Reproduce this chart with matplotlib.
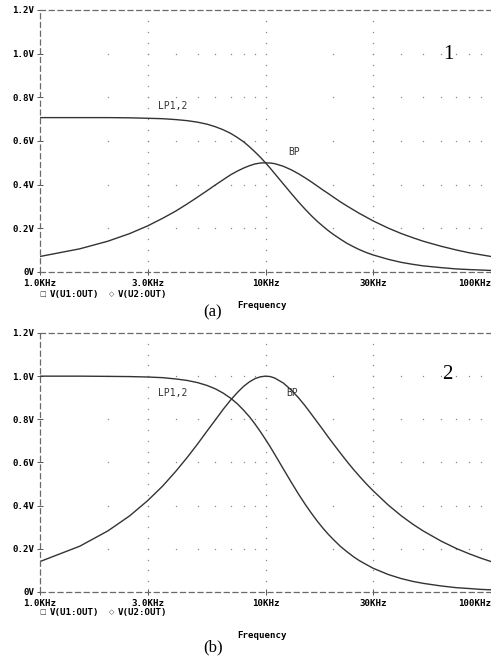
import numpy as np
import matplotlib
matplotlib.use("Agg")
import matplotlib.pyplot as plt
from matplotlib.ticker import NullLocator

### DATA ###
freq_hz = [1000, 1500, 2000, 2500, 3000, 3500, 4000, 4500, 5000, 5500, 6000, 6500,
           7000, 7500, 8000, 8500, 9000, 9500, 10000, 10500, 11000, 12000, 13000, 14000,
           15000, 16000, 17000, 18000, 19000, 20000, 21500, 23000, 24500, 26000, 28000,
           30000, 35000, 40000, 45000, 50000, 60000, 70000, 80000, 90000, 100000]

# panel (a)
lp_a = [0.707, 0.707, 0.707, 0.706, 0.704, 0.702, 0.698, 0.693, 0.686, 0.677, 0.665, 0.651,
        0.635, 0.616, 0.596, 0.573, 0.549, 0.525, 0.500, 0.475, 0.450, 0.403, 0.360, 0.321,
        0.287, 0.257, 0.231, 0.209, 0.189, 0.172, 0.150, 0.131, 0.116, 0.103, 0.089,
        0.078, 0.058, 0.044, 0.035, 0.028, 0.020, 0.014, 0.011, 0.009, 0.007]
bp_a = [0.071, 0.106, 0.141, 0.176, 0.211, 0.246, 0.279, 0.312, 0.343, 0.372, 0.399, 0.423,
        0.445, 0.462, 0.476, 0.487, 0.495, 0.499, 0.500, 0.499, 0.496, 0.484, 0.468, 0.450,
        0.431, 0.412, 0.393, 0.375, 0.359, 0.343, 0.321, 0.302, 0.285, 0.269, 0.251,
        0.234, 0.201, 0.176, 0.157, 0.141, 0.118, 0.101, 0.088, 0.079, 0.071]

# panel (b)
lp_b = [1.000, 1.000, 0.999, 0.998, 0.996, 0.993, 0.987, 0.980, 0.970, 0.957, 0.941, 0.921,
        0.898, 0.872, 0.842, 0.811, 0.777, 0.742, 0.707, 0.672, 0.637, 0.570, 0.509, 0.454,
        0.406, 0.364, 0.327, 0.295, 0.267, 0.243, 0.211, 0.186, 0.164, 0.146, 0.127,
        0.110, 0.081, 0.062, 0.049, 0.040, 0.028, 0.020, 0.016, 0.012, 0.010]
bp_b = [0.141, 0.212, 0.283, 0.353, 0.423, 0.491, 0.559, 0.624, 0.686, 0.745, 0.798, 0.847,
        0.889, 0.924, 0.953, 0.974, 0.989, 0.997, 1.000, 0.998, 0.991, 0.968, 0.936, 0.900,
        0.862, 0.823, 0.786, 0.751, 0.717, 0.686, 0.643, 0.604, 0.569, 0.538, 0.501,
        0.469, 0.403, 0.353, 0.314, 0.283, 0.236, 0.202, 0.177, 0.157, 0.141]

x_ticks = [1000, 3000, 10000, 30000, 100000]
x_labels = ["1.0KHz", "3.0KHz", "10KHz", "30KHz", "100KHz"]
y_ticks = [0, 0.2, 0.4, 0.6, 0.8, 1.0, 1.2]
y_labels = ["0V", "0.2V", "0.4V", "0.6V", "0.8V", "1.0V", "1.2V"]

MONO = "DejaVu Sans Mono"
CURVE = "#333333"
DOT = "#8a8a8a"


def setup_axes(ax):
    ax.set_xscale("log")
    ax.set_xlim(1000, 100000)
    ax.set_ylim(0, 1.2)
    ax.xaxis.set_minor_locator(NullLocator())
    ax.set_xticks(x_ticks)
    ax.set_xticklabels(x_labels, fontfamily=MONO, fontweight="bold", fontsize=6.6)
    ax.get_xticklabels()[-1].set_horizontalalignment("right")
    ax.set_yticks(y_ticks)
    ax.set_yticklabels(y_labels, fontfamily=MONO, fontweight="bold", fontsize=6.6)
    ax.tick_params(axis="both", direction="inout", length=4, width=0.7, color="#555555")
    ax.tick_params(axis="x", pad=3)
    ax.tick_params(axis="y", pad=2)

    for side in ["left", "top", "bottom"]:
        ax.spines[side].set_linestyle((0, (4, 3)))
        ax.spines[side].set_linewidth(0.9)
        ax.spines[side].set_color("#6a6a6a")
    ax.spines["right"].set_visible(False)

    # dotted grid, PSpice style
    minor_x = [m * 10**e for e in (3, 4) for m in range(2, 10)]
    for yv in y_ticks[1:-1]:
        ax.plot(minor_x, [yv] * len(minor_x), ls="none", marker="s", ms=0.9, mew=0, color=DOT)
    dots_y = [k * 0.05 for k in range(1, 24)]
    for xv in x_ticks[1:-1]:
        ax.plot([xv] * len(dots_y), dots_y, ls="none", marker="s", ms=0.9, mew=0, color=DOT)


fig = plt.figure(figsize=(4.91, 6.56), dpi=100)
ax1 = fig.add_axes([0.0815, 0.5854, 0.9185, 0.3994])
ax2 = fig.add_axes([0.0815, 0.0976, 0.9185, 0.3948])

for ax, lp, bp in [(ax1, lp_a, bp_a), (ax2, lp_b, bp_b)]:
    setup_axes(ax)
    ax.plot(freq_hz, lp, color=CURVE, lw=1.0)
    ax.plot(freq_hz, bp, color=CURVE, lw=1.0)

# curve labels
ax1.text(0.262, 0.622, "LP1,2", transform=ax1.transAxes, fontfamily=MONO, fontsize=7, color="#333333")
ax1.text(0.551, 0.447, "BP", transform=ax1.transAxes, fontfamily=MONO, fontsize=7, color="#333333")
ax2.text(0.262, 0.755, "LP1,2", transform=ax2.transAxes, fontfamily=MONO, fontsize=7, color="#333333")
ax2.text(0.545, 0.755, "BP", transform=ax2.transAxes, fontfamily=MONO, fontsize=7, color="#333333")

# panel numbers
ax1.text(0.893, 0.83, "1", transform=ax1.transAxes, fontfamily="Liberation Serif", fontsize=15, va="center")
ax2.text(0.891, 0.84, "2", transform=ax2.transAxes, fontfamily="Liberation Serif", fontsize=15, va="center")

# legends, captions and axis titles
for y_leg, y_freq, y_cap, cap in [(294, 305, 312, "(a)"), (612, 636, 647, "(b)")]:
    fig.text(43 / 491, 1 - y_leg / 656, "\u25a1", fontsize=5, va="center", ha="center", color="#333333")
    fig.text(50 / 491, 1 - y_leg / 656, "V(U1:OUT)", fontfamily=MONO, fontweight="bold", fontsize=6.6, va="center")
    fig.text(112 / 491, 1 - y_leg / 656, "\u25c7", fontsize=5, va="center", ha="center", color="#333333")
    fig.text(118 / 491, 1 - y_leg / 656, "V(U2:OUT)", fontfamily=MONO, fontweight="bold", fontsize=6.6, va="center")
    fig.text(237 / 491, 1 - y_freq / 656, "Frequency", fontfamily=MONO, fontweight="bold", fontsize=6.6, va="center")
    fig.text(213 / 491, 1 - y_cap / 656, cap, fontfamily="Liberation Serif", fontsize=12, va="center", ha="center")

fig.savefig("out.png", dpi=100)
